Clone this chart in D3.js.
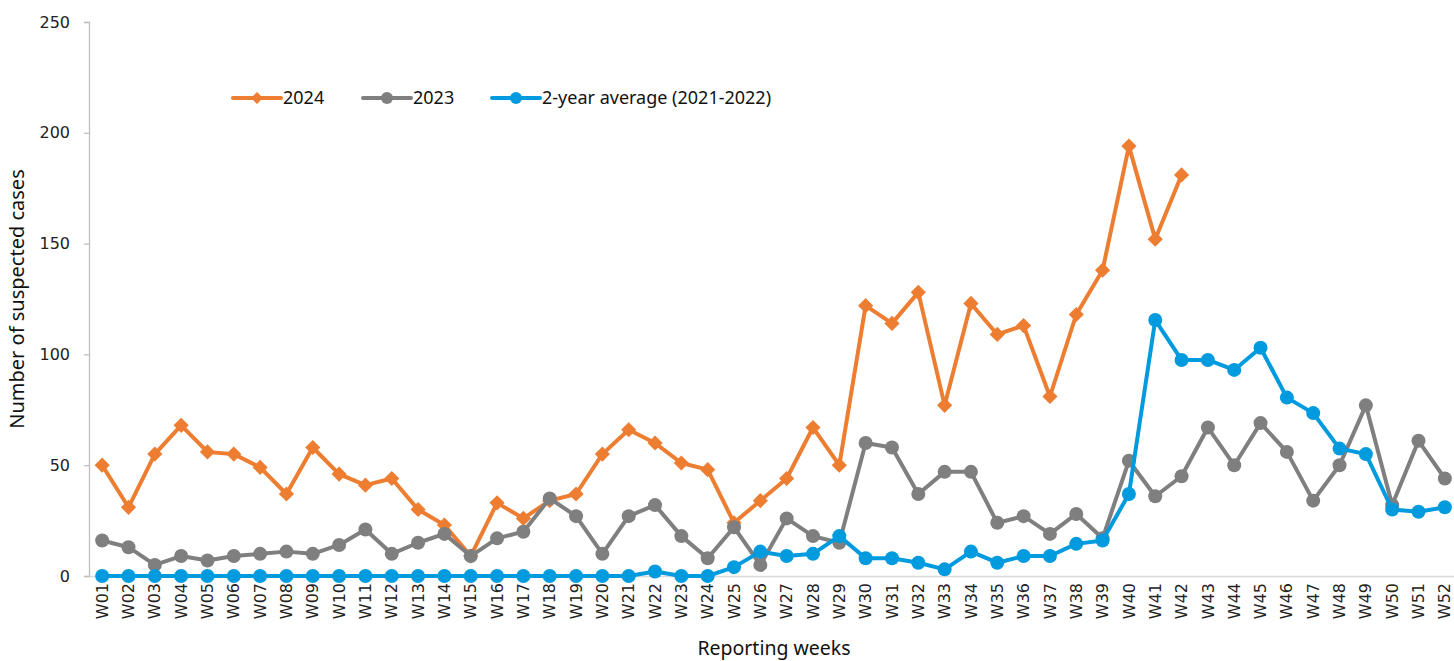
<!DOCTYPE html>
<meta charset="utf-8">
<style>
body { margin: 0; background: #fff; }
.tick text { font-family: "DejaVu Sans", sans-serif; font-size: 16px; fill: #222; }
.lbl { font-family: "Noto Sans", sans-serif; fill: #111; }
</style>
<body>
<script src="https://cdn.jsdelivr.net/npm/d3@7"></script>
<script>
var weeks = d3.range(1, 53).map(function(i) { return "W" + (i < 10 ? "0" + i : i); });

var cases2024 = [50, 31, 55, 68, 56, 55, 49, 37, 58, 46, 41, 44, 30, 23, 9, 33, 26, 34, 37, 55,
  66, 60, 51, 48, 24, 34, 44, 67, 50, 122, 114, 128, 77, 123, 109, 113, 81, 118, 138, 194, 152, 181];

var cases2023 = [16, 13, 5, 9, 7, 9, 10, 11, 10, 14, 21, 10, 15, 19, 9, 17, 20, 35, 27, 10,
  27, 32, 18, 8, 22, 5, 26, 18, 15, 60, 58, 37, 47, 47, 24, 27, 19, 28, 17, 52,
  36, 45, 67, 50, 69, 56, 34, 50, 77, 32, 61, 44];

var avg2yr = [0, 0, 0, 0, 0, 0, 0, 0, 0, 0, 0, 0, 0, 0, 0, 0, 0, 0, 0, 0,
  0, 2, 0, 0, 4, 11, 9, 10, 18, 8, 8, 6, 3, 11, 6, 9, 9, 14.5, 16, 37,
  115.5, 97.5, 97.5, 93, 103, 80.5, 73.5, 57.5, 55, 30, 29, 31];

var yTicks = [0, 50, 100, 150, 200, 250];

var series = [
  { name: "2024", values: cases2024, color: "#ED7D31", shape: "diamond" },
  { name: "2023", values: cases2023, color: "#7F7F7F", shape: "circle" },
  { name: "2-year average (2021-2022)", values: avg2yr, color: "#009ADE", shape: "circle" }
];

var width = 1454, height = 661;
var svg = d3.select("body").append("svg").attr("width", width).attr("height", height);

var x = d3.scaleBand().domain(weeks).range([89, 1458]);
var y = d3.scaleLinear().domain([0, 250]).range([576, 22]);

// y axis
var yAxis = svg.append("g")
    .attr("transform", "translate(89,0)")
    .call(d3.axisLeft(y).tickValues(yTicks).tickSize(5).tickPadding(14));
yAxis.select(".domain").attr("stroke", "#BFBFBF").attr("stroke-width", 1.3);
yAxis.selectAll(".tick line").attr("stroke", "#BFBFBF").attr("stroke-width", 1.3);

// x axis
var xAxis = svg.append("g")
    .attr("transform", "translate(0,576)")
    .call(d3.axisBottom(x).tickSize(0).tickSizeOuter(0));
xAxis.select(".domain").attr("stroke", "#D9D9D9").attr("stroke-width", 1.5);
xAxis.selectAll(".tick text")
    .attr("transform", "rotate(-90)")
    .attr("text-anchor", "end")
    .attr("x", -7)
    .attr("y", 0)
    .attr("dy", "0.35em");

var cx = function(d, i) { return x(weeks[i]) + x.bandwidth() / 2; };

var line = d3.line()
    .x(cx)
    .y(function(d) { return y(d); });

var diamond = d3.symbol().type(d3.symbolSquare).size(115);

series.forEach(function(s) {
  svg.append("path")
      .datum(s.values)
      .attr("fill", "none")
      .attr("stroke", s.color)
      .attr("stroke-width", 4)
      .attr("stroke-linejoin", "round")
      .attr("d", line);

  var pts = svg.append("g").selectAll(".pt")
      .data(s.values)
      .enter();
  if (s.shape === "circle") {
    pts.append("circle")
        .attr("cx", cx)
        .attr("cy", function(d) { return y(d); })
        .attr("r", 7)
        .attr("fill", s.color);
  } else {
    pts.append("path")
        .attr("d", diamond)
        .attr("transform", function(d, i) {
          return "translate(" + cx(d, i) + "," + y(d) + ") rotate(45)";
        })
        .attr("fill", s.color);
  }
});

// legend
var legendX = [233, 363, 492];
series.forEach(function(s, i) {
  var g = svg.append("g").attr("transform", "translate(" + legendX[i] + ",98)");
  g.append("line").attr("x1", 0).attr("x2", 48)
      .attr("stroke", s.color).attr("stroke-width", 4).attr("stroke-linecap", "round");
  if (s.shape === "circle") {
    g.append("circle").attr("cx", 24).attr("r", 6).attr("fill", s.color);
  } else {
    g.append("path").attr("d", d3.symbol().type(d3.symbolSquare).size(70))
        .attr("transform", "translate(24,0) rotate(45)").attr("fill", s.color);
  }
  g.append("text").attr("class", "lbl")
      .attr("x", 50).attr("dy", "0.35em")
      .style("font-size", "18px")
      .text(s.name);
});

// axis titles
svg.append("text").attr("class", "lbl")
    .attr("transform", "translate(24,299) rotate(-90)")
    .attr("text-anchor", "middle")
    .style("font-size", "20px")
    .text("Number of suspected cases");

svg.append("text").attr("class", "lbl")
    .attr("x", 774).attr("y", 655)
    .attr("text-anchor", "middle")
    .style("font-size", "19.5px")
    .text("Reporting weeks");
</script>
</body>
